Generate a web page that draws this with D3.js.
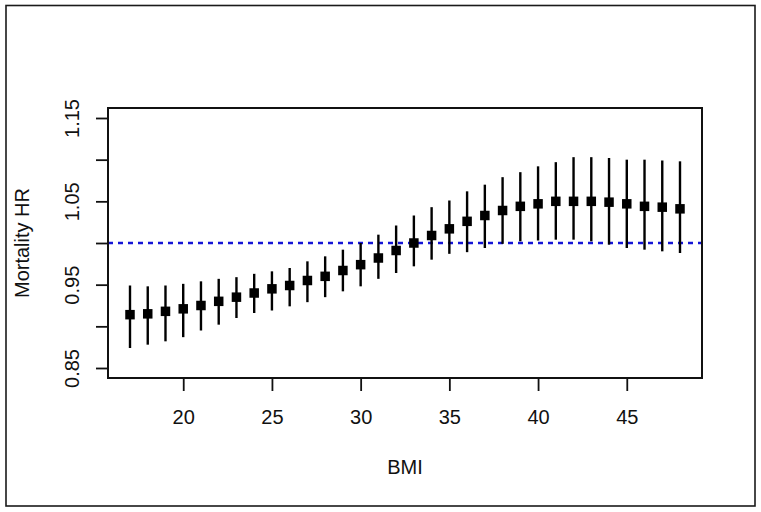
<!DOCTYPE html>
<html>
<head>
<meta charset="utf-8">
<script src="https://cdn.jsdelivr.net/npm/d3@7"></script>
<style>
  body { margin: 0; background: #fff; }
  svg { display: block; font-family: "Liberation Sans", Arial, sans-serif; }
</style>
</head>
<body>
<div id="chart"></div>
<script>
// ── data ───────────────────────────────────────────────────────
const bmi   = [17, 18, 19, 20, 21, 22, 23, 24, 25, 26, 27, 28, 29, 30, 31, 32,
               33, 34, 35, 36, 37, 38, 39, 40, 41, 42, 43, 44, 45, 46, 47, 48];
const hr    = [0.914, 0.915, 0.918, 0.921, 0.925, 0.930, 0.935, 0.940, 0.945, 0.949,
               0.955, 0.960, 0.967, 0.974, 0.982, 0.991, 1.000, 1.009, 1.017, 1.026,
               1.033, 1.039, 1.044, 1.047, 1.050, 1.050, 1.050, 1.049, 1.047, 1.044,
               1.043, 1.041];
const lower = [0.874, 0.878, 0.882, 0.887, 0.895, 0.902, 0.910, 0.916, 0.919, 0.924,
               0.929, 0.935, 0.942, 0.948, 0.957, 0.964, 0.972, 0.980, 0.987, 0.989,
               0.994, 0.999, 1.002, 1.003, 1.004, 1.004, 1.002, 0.998, 0.994, 0.992,
               0.990, 0.988];
const upper = [0.949, 0.948, 0.949, 0.951, 0.954, 0.957, 0.959, 0.963, 0.966, 0.970,
               0.978, 0.984, 0.992, 1.000, 1.010, 1.021, 1.033, 1.043, 1.051, 1.062,
               1.070, 1.079, 1.085, 1.092, 1.097, 1.103, 1.103, 1.102, 1.100, 1.100,
               1.099, 1.098];
const xTicks = [20, 25, 30, 35, 40, 45];
const yTicks = [0.85, 0.90, 0.95, 1.00, 1.05, 1.10, 1.15];
const yLabelled = ['0.85', '0.95', '1.05', '1.15'];
const refLine = 1.0;

const rows = bmi.map((b, i) => ({ bmi: b, hr: hr[i], lo: lower[i], hi: upper[i] }));

// ── layout ─────────────────────────────────────────────────────
const W = 761, H = 512;
const PL = 108, PR = 702, PT = 108, PB = 378;
const FS = 20;

const svg = d3.select('#chart').append('svg')
  .attr('width', W).attr('height', H);

// outer frame
svg.append('rect')
  .attr('x', 6).attr('y', 5.5).attr('width', 749).attr('height', 500.5)
  .attr('fill', 'none').attr('stroke', '#1a1a1a').attr('stroke-width', 1.6);

// ── scales (R style: 4% padding) ───────────────────────────────
const xr = [d3.min(bmi), d3.max(bmi)];
const xpad = (xr[1] - xr[0]) * 0.04;
const x = d3.scaleLinear().domain([xr[0] - xpad, xr[1] + xpad]).range([PL, PR]);
const y = d3.scaleLinear().domain([0.85 - 0.012, 1.15 + 0.012]).range([PB, PT]);

// ── axes ───────────────────────────────────────────────────────
const xAxisG = svg.append('g').attr('transform', `translate(0,${PB})`)
  .call(d3.axisBottom(x).tickValues(xTicks).tickSize(13).tickSizeOuter(0).tickPadding(19));
xAxisG.select('.domain').remove();
xAxisG.selectAll('line').attr('stroke', '#111').attr('stroke-width', 1.8);
xAxisG.selectAll('text').attr('font-size', FS).attr('fill', '#111')
  .attr('font-family', '"Liberation Sans", Arial, sans-serif');

const yAxisG = svg.append('g').attr('transform', `translate(${PL},0)`)
  .call(d3.axisLeft(y).tickValues(yTicks).tickSize(12).tickSizeOuter(0)
    .tickFormat(d => yLabelled.includes(d.toFixed(2)) ? d.toFixed(2) : ''));
yAxisG.select('.domain').remove();
yAxisG.selectAll('line').attr('stroke', '#111').attr('stroke-width', 1.8);
yAxisG.selectAll('text')
  .attr('font-size', FS).attr('fill', '#111')
  .attr('font-family', '"Liberation Sans", Arial, sans-serif')
  .attr('x', null).attr('dy', null)
  .attr('text-anchor', 'middle')
  .attr('transform', 'translate(-29.5,0) rotate(-90)');

// axis titles
svg.append('text')
  .attr('x', (PL + PR) / 2).attr('y', 474)
  .attr('text-anchor', 'middle').attr('font-size', FS).attr('fill', '#111')
  .text('BMI');

svg.append('text')
  .attr('transform', `translate(29,${(PT + PB) / 2}) rotate(-90)`)
  .attr('text-anchor', 'middle').attr('font-size', FS).attr('fill', '#111')
  .text('Mortality HR');

// ── reference line ─────────────────────────────────────────────
svg.append('line')
  .attr('x1', PL).attr('x2', PR)
  .attr('y1', y(refLine)).attr('y2', y(refLine))
  .attr('stroke', '#1414d6').attr('stroke-width', 2.6)
  .attr('stroke-dasharray', '5,5');

// ── error bars and points ──────────────────────────────────────
const g = svg.append('g');

g.selectAll('.bar').data(rows).enter().append('line')
  .attr('class', 'bar')
  .attr('x1', d => x(d.bmi)).attr('x2', d => x(d.bmi))
  .attr('y1', d => y(d.lo)).attr('y2', d => y(d.hi))
  .attr('stroke', '#000').attr('stroke-width', 2.4);

const S = 9.5;
g.selectAll('.pt').data(rows).enter().append('rect')
  .attr('class', 'pt')
  .attr('x', d => x(d.bmi) - S / 2).attr('y', d => y(d.hr) - S / 2)
  .attr('width', S).attr('height', S)
  .attr('fill', '#000');

// plot box
svg.append('rect')
  .attr('x', PL).attr('y', PT).attr('width', PR - PL).attr('height', PB - PT)
  .attr('fill', 'none').attr('stroke', '#111').attr('stroke-width', 2);
</script>
</body>
</html>
